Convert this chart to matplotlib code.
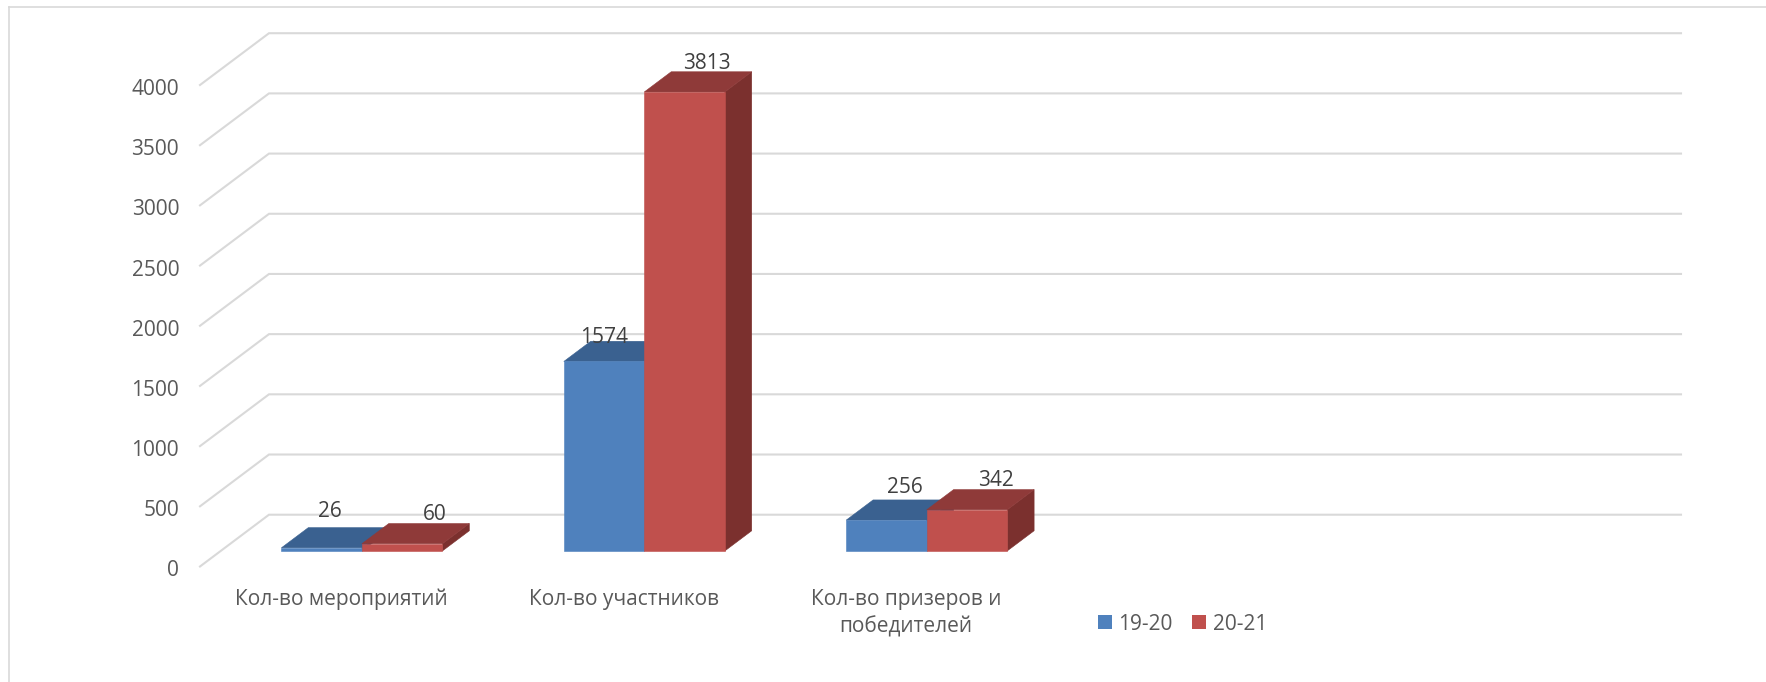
import matplotlib
matplotlib.use("Agg")
import matplotlib.pyplot as plt
from matplotlib.patches import Patch
from matplotlib.transforms import ScaledTranslation

categories = ["Кол-во мероприятий", "Кол-во участников", "Кол-во призеров и\nпобедителей"]
series_names = ["19-20", "20-21"]
values_1920 = [26, 1574, 256]
values_2021 = [60, 3813, 342]
y_ticks = [0, 500, 1000, 1500, 2000, 2500, 3000, 3500, 4000]

W, H = 1766, 682
FONT = "Open Sans"
FS = 15
GRID = "#D9D9D9"
# face colours: front, top, side
BLUE = ("#4F81BD", "#3A6190", "#2F4F75")
RED = ("#C0504D", "#8F3A39", "#7B302E")

# front floor plane in pixels
L, R, B, T = 200, 1612, 566.5, 85
XMIN, XMAX = -0.5, 4.5
VMAX = 4000
DEPTH_X = 69 / ((R - L) / (XMAX - XMIN))
DEPTH_V = 51.8 / ((B - T) / VMAX)
D0, D1 = 0.30, 0.69
BAR_W = 80.5 / ((R - L) / (XMAX - XMIN))


def proj(x, v, d):
    return x + d * DEPTH_X, v + d * DEPTH_V


fig = plt.figure(figsize=(W / 100, H / 100), dpi=100, facecolor="white")
ax = fig.add_axes([L / W, 1 - B / H, (R - L) / W, (B - T) / H])
ax.set_xlim(XMIN, XMAX)
ax.set_ylim(0, VMAX)
ax.patch.set_visible(False)
for s in ax.spines.values():
    s.set_visible(False)

# outer frame
fig.add_artist(plt.Line2D([9 / W, 9 / W], [0, 1 - 6.5 / H], color=GRID, lw=1.2))
fig.add_artist(plt.Line2D([9 / W, 1], [1 - 6.5 / H, 1 - 6.5 / H], color=GRID, lw=1.2))

# gridlines
for v in y_ticks:
    p = [proj(XMIN, v, 0), proj(XMIN, v, 1), proj(XMAX, v, 1)]
    ax.plot(*zip(*p), color=GRID, lw=1.5, clip_on=False, zorder=1, solid_joinstyle="miter")


def bar(x0, v, cols, z):
    x1 = x0 + BAR_W
    front = [proj(x0, 0, D0), proj(x1, 0, D0), proj(x1, v, D0), proj(x0, v, D0)]
    top = [proj(x0, v, D0), proj(x1, v, D0), proj(x1, v, D1), proj(x0, v, D1)]
    side = [proj(x1, 0, D0), proj(x1, 0, D1), proj(x1, v, D1), proj(x1, v, D0)]
    for poly, c in ((side, cols[2]), (top, cols[1]), (front, cols[0])):
        ax.fill(*zip(*poly), facecolor=c, edgecolor=c, lw=0.4, zorder=z, clip_on=False)


label_dx = [[-19, 6], [-27, -5], [-8, 2]]
label_dy = [[16, 9], [4, 8], [12, 9]]

for i in range(len(categories)):
    for j, (vals, cols) in enumerate(((values_1920, BLUE), (values_2021, RED))):
        x0 = i - BAR_W + j * BAR_W
        bar(x0, vals[i], cols, 3 + j)
        ax.annotate(str(vals[i]), proj(x0 + BAR_W / 2, vals[i], D1),
                    xytext=(label_dx[i][j] * 0.72, label_dy[i][j] * 0.72),
                    textcoords="offset points", ha="center", va="center",
                    family=FONT, fontsize=FS, color="#404040", zorder=6, annotation_clip=False)

ax.set_yticks(y_ticks)
ax.set_xticks(range(len(categories)))
ax.set_xticklabels(categories, family=FONT, fontsize=FS, color="#595959", linespacing=1.42, va="top")
ax.set_yticklabels([str(v) for v in y_ticks], family=FONT, fontsize=FS, color="#595959")
ax.tick_params(axis="both", length=0)
ax.tick_params(axis="x", pad=16)
ax.tick_params(axis="y", pad=15)
shift = ScaledTranslation(0, -2 / 100, fig.dpi_scale_trans)
for lab in ax.get_yticklabels():
    lab.set_transform(lab.get_transform() + shift)

handles = [Patch(facecolor=BLUE[0], label=series_names[0]), Patch(facecolor=RED[0], label=series_names[1])]
fig.legend(handles=handles, loc="center left", bbox_to_anchor=(1098 / W, 1 - 624 / H), ncol=2, frameon=False,
           handlelength=0.67, handleheight=0.67, handletextpad=0.3, columnspacing=0.95, borderpad=0, borderaxespad=0,
           prop={"family": FONT, "size": FS}, labelcolor="#595959")

fig.savefig("out.png", dpi=100, facecolor="white")
